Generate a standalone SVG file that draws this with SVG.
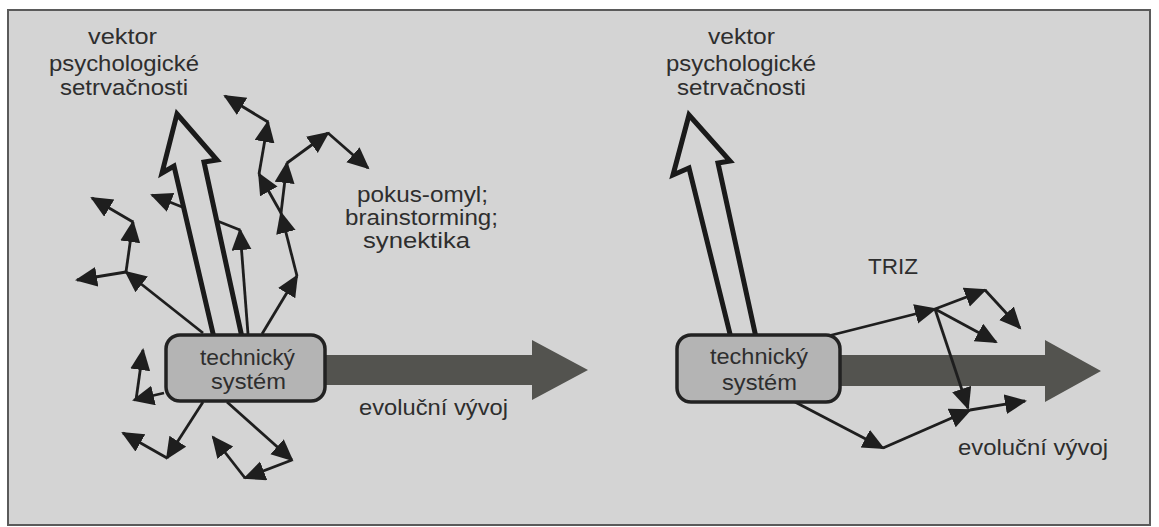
<svg xmlns="http://www.w3.org/2000/svg" width="1159" height="527" viewBox="0 0 1159 527">
  <defs>
    <style>
      .txt { font-family: "Liberation Sans", Arial, sans-serif; font-size: 22px; fill: #2e2e2e; }
      .thin { fill: none; stroke: #1e1e1e; stroke-width: 2.8; marker-end: url(#ah); }
      .hollow { fill: #d4d4d4; stroke: #1a1a1a; stroke-width: 5; stroke-linejoin: miter; }
      .big { fill: #53534f; stroke: none; }
      .box { fill: #b4b4b4; stroke: #222; stroke-width: 3.5; }
    </style>
    <marker id="ah" markerUnits="userSpaceOnUse" markerWidth="24" markerHeight="22" viewBox="0 0 24 22" refX="20" refY="10" orient="auto">
      <path d="M0,0 L22,10 L0,20 z" fill="#1e1e1e"/>
    </marker>
  </defs>

  <rect x="0" y="0" width="1159" height="527" fill="#ffffff"/>
  <rect x="8" y="10" width="1142" height="515" fill="#d4d4d4" stroke="#5a5a5a" stroke-width="2"/>

  <g id="connectors">
    <!-- evolution arrows -->
    <polygon class="big" points="318,355 532,355 532,340 588,370 532,400 532,385 318,385"/>
    <polygon class="big" points="832,355 1045,355 1045,340 1101,371 1045,402 1045,386 832,386"/>

    <!-- left cluster: trial and error -->
    <line class="thin" x1="240" y1="230" x2="152" y2="195"/>
    <line class="thin" x1="203" y1="333" x2="126" y2="272"/>
    <line class="thin" x1="126" y1="272" x2="133" y2="222"/>
    <line class="thin" x1="133" y1="222" x2="92" y2="198"/>
    <line class="thin" x1="126" y1="272" x2="77" y2="280"/>
    <line class="thin" x1="248" y1="334" x2="240" y2="230"/>
    <line class="thin" x1="262" y1="334" x2="297" y2="276"/>
    <line class="thin" x1="297" y1="276" x2="281" y2="213"/>
    <line class="thin" x1="281" y1="213" x2="259" y2="174"/>
    <line class="thin" x1="281" y1="213" x2="287" y2="163"/>
    <line class="thin" x1="259" y1="174" x2="268" y2="122"/>
    <line class="thin" x1="268" y1="122" x2="225" y2="96"/>
    <line class="thin" x1="287" y1="163" x2="328" y2="133"/>
    <line class="thin" x1="328" y1="133" x2="368" y2="168"/>
    <line class="thin" x1="164" y1="393" x2="134" y2="400"/>
    <line class="thin" x1="136" y1="400" x2="143" y2="350"/>
    <line class="thin" x1="203" y1="402" x2="167" y2="458"/>
    <line class="thin" x1="167" y1="458" x2="123" y2="433"/>
    <line class="thin" x1="227" y1="402" x2="292" y2="460"/>
    <line class="thin" x1="292" y1="460" x2="245" y2="478"/>
    <line class="thin" x1="245" y1="478" x2="213" y2="437"/>

    <!-- right cluster: TRIZ -->
    <line class="thin" x1="828" y1="336" x2="935" y2="309"/>
    <line class="thin" x1="935" y1="309" x2="985" y2="290"/>
    <line class="thin" x1="985" y1="290" x2="1020" y2="328"/>
    <line class="thin" x1="935" y1="309" x2="996" y2="342"/>
    <line class="thin" x1="935" y1="309" x2="968" y2="408"/>
    <line class="thin" x1="795" y1="402" x2="883" y2="448"/>
    <line class="thin" x1="883" y1="448" x2="970" y2="410"/>
    <line class="thin" x1="970" y1="410" x2="1025" y2="401"/>

    <!-- psychological inertia vectors (hollow) -->
    <polygon class="hollow" points="177,114 217,160 204,162 243,342 215,342 174,166 162,173"/>
    <polygon class="hollow" points="689,115 730,161 718,163 757,342 732,342 689,168 673,175"/>
  </g>

  <g id="node-system-left">
    <rect class="box" x="166" y="335" width="159" height="66" rx="14" ry="14"/>
    <text class="txt" x="200" y="365" textLength="95" lengthAdjust="spacingAndGlyphs">technický</text>
    <text class="txt" x="211" y="389" textLength="75" lengthAdjust="spacingAndGlyphs">systém</text>
  </g>

  <g id="node-system-right">
    <rect class="box" x="677" y="335" width="163" height="67" rx="14" ry="14"/>
    <text class="txt" x="710" y="364" textLength="98" lengthAdjust="spacingAndGlyphs">technický</text>
    <text class="txt" x="722" y="390" textLength="75" lengthAdjust="spacingAndGlyphs">systém</text>
  </g>

  <g id="label-vector-left">
    <text class="txt" x="88" y="44" textLength="69" lengthAdjust="spacingAndGlyphs">vektor</text>
    <text class="txt" x="49" y="71" textLength="150" lengthAdjust="spacingAndGlyphs">psychologické</text>
    <text class="txt" x="60" y="95" textLength="128" lengthAdjust="spacingAndGlyphs">setrvačnosti</text>
  </g>

  <g id="label-vector-right">
    <text class="txt" x="708" y="44" textLength="67" lengthAdjust="spacingAndGlyphs">vektor</text>
    <text class="txt" x="666" y="71" textLength="150" lengthAdjust="spacingAndGlyphs">psychologické</text>
    <text class="txt" x="677" y="95" textLength="129" lengthAdjust="spacingAndGlyphs">setrvačnosti</text>
  </g>

  <g id="label-methods">
    <text class="txt" x="357" y="202" textLength="131" lengthAdjust="spacingAndGlyphs">pokus-omyl;</text>
    <text class="txt" x="345" y="225" textLength="153" lengthAdjust="spacingAndGlyphs">brainstorming;</text>
    <text class="txt" x="363" y="248" textLength="107" lengthAdjust="spacingAndGlyphs">synektika</text>
  </g>

  <g id="label-evolution-left">
    <text class="txt" x="359" y="415" textLength="149" lengthAdjust="spacingAndGlyphs">evoluční vývoj</text>
  </g>

  <g id="label-triz">
    <text class="txt" x="868" y="274" textLength="50" lengthAdjust="spacingAndGlyphs">TRIZ</text>
  </g>

  <g id="label-evolution-right">
    <text class="txt" x="958" y="455" textLength="150" lengthAdjust="spacingAndGlyphs">evoluční vývoj</text>
  </g>
</svg>
